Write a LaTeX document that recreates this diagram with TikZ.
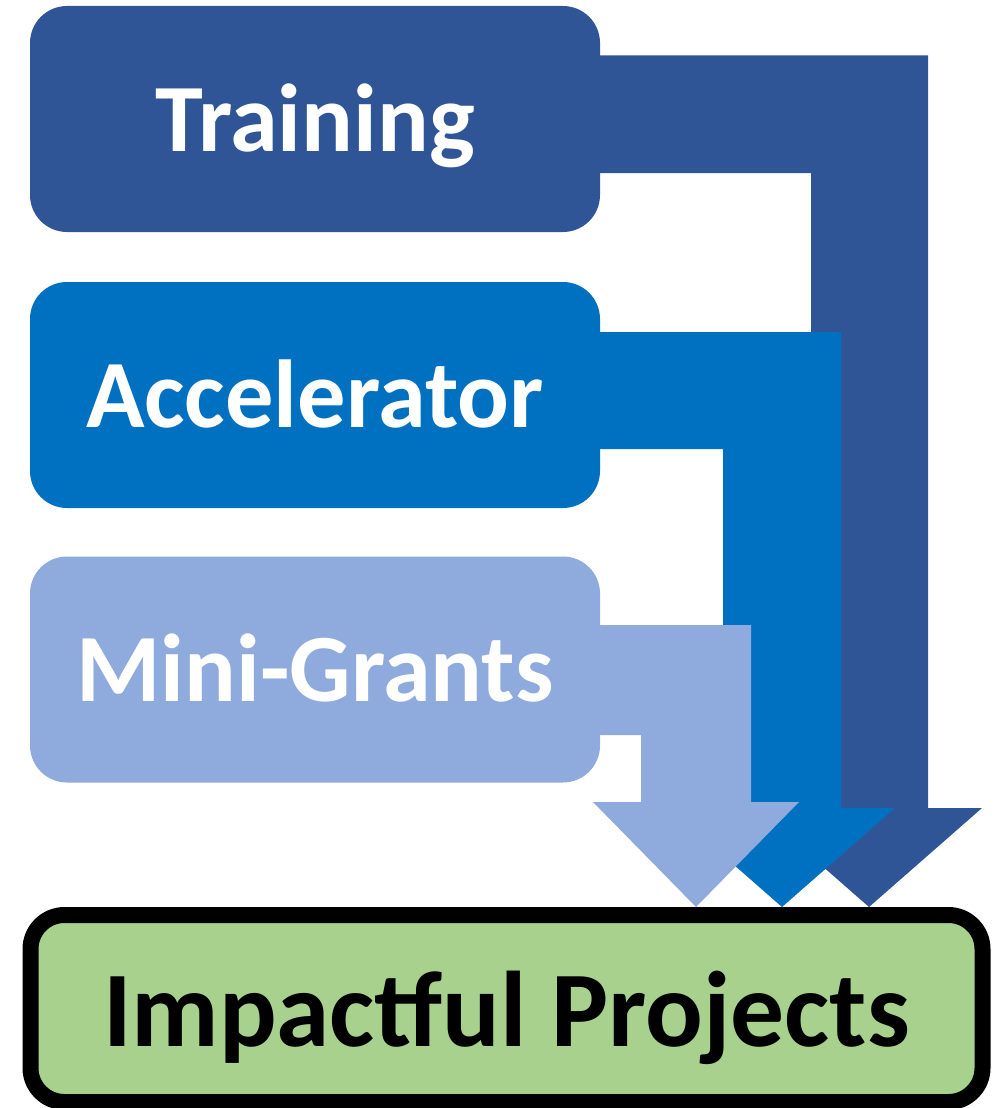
\documentclass[tikz,border=0pt]{standalone}
\usepackage{fontspec}
\setmainfont{Carlito}
\usetikzlibrary{calc}

\definecolor{traincol}{HTML}{2F5597}
\definecolor{accelcol}{HTML}{0070C0}
\definecolor{minicol}{HTML}{8FAADC}
\definecolor{impactcol}{HTML}{A9D18E}

\begin{document}
\begin{tikzpicture}[x=1pt, y=-1pt,
	stream/.style={rectangle, rounded corners=37pt, minimum width=570pt, minimum height=226pt,
		inner sep=0pt, text=white, text height=64pt, text depth=0pt,
		font=\fontsize{96.5}{110}\selectfont\bfseries},
	goal/.style={rectangle, rounded corners=34pt, draw=black, line width=16pt, fill=impactcol,
		minimum width=952pt, minimum height=187pt, inner sep=0pt, text height=75pt, text depth=0pt,
		font=\fontsize{107.5}{120}\selectfont\bfseries}]
	\useasboundingbox (0,0) rectangle (1000,1108);

	\node[stream, fill=traincol] 	(training) 	at (315,119) 	{Training};
	\node[stream, fill=accelcol] 	(accel) 	at (315,395) 	{Accelerator};
	\node[stream, fill=minicol] 	(mini) 		at (315,669.5) 	{Mini-Grants};
	\node[goal] 					(impact) 	at (506.5,1008.5) {Impactful Projects};

	% bent block arrows, back to front
	\fill[traincol] (training.east |- 0,55.5) -- (928,55.5) -- (928,808) -- (982,808)
		-- (869,0 |- impact.north) -- (756,808) -- (811,808) -- (811,173) -- (training.east |- 0,173) -- cycle;
	\fill[accelcol] (accel.east |- 0,332) -- (841,332) -- (841,808) -- (895,808)
		-- (782,0 |- impact.north) -- (669,808) -- (723,808) -- (723,449) -- (accel.east |- 0,449) -- cycle;
	\fill[minicol] (mini.east |- 0,625) -- (751,625) -- (751,802) -- (799,802)
		-- (696,0 |- impact.north) -- (593,802) -- (641,802) -- (641,735) -- (mini.east |- 0,735) -- cycle;
\end{tikzpicture}
\end{document}
